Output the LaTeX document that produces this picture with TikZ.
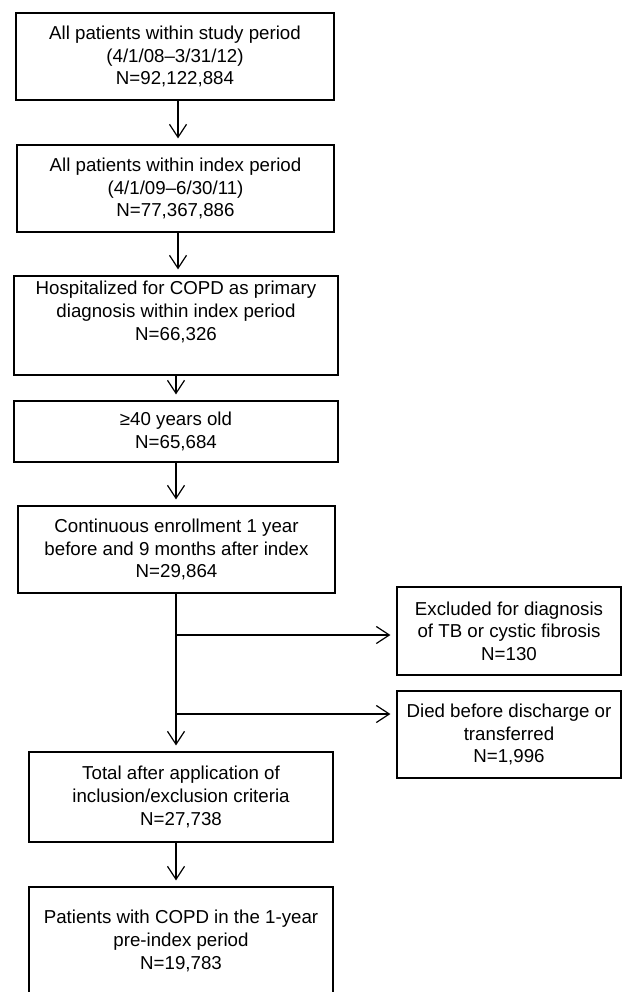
\documentclass[tikz,border=0pt]{standalone}
\usepackage{fontspec}
\setmainfont{Liberation Sans}
\usetikzlibrary{arrows.meta}
\tikzset{
  box/.style={draw=black, line width=1.2pt, rectangle, align=center, inner sep=0pt,
    font=\fontsize{18.7}{22.6}\selectfont},
  conn/.style={draw=black, line width=1.2pt, -{Straight Barb[length=13pt,width=17pt,line width=1.2pt]}, shorten >=6pt}
}
\begin{document}
\begin{tikzpicture}[x=1pt,y=-1pt]
\useasboundingbox (0,0) rectangle (622,992);
\node[box, minimum width=318pt, minimum height=87pt] (b1) at (175,56.5) {All patients within study period\\(4/1/08--3/31/12)\\N=92,122,884};
\node[box, minimum width=317pt, minimum height=87pt] (b2) at (175.5,188.5) {All patients within index period\\(4/1/09--6/30/11)\\N=77,367,886};
\node[box, minimum width=324pt, minimum height=99pt] (b3) at (176,325.5) {Hospitalized for COPD as primary\\diagnosis within index period\\N=66,326\\ \strut};
\node[box, minimum width=324pt, minimum height=61pt] (b4) at (176,431.5) {≥40 years old\\N=65,684};
\node[box, minimum width=317pt, minimum height=87pt] (b5) at (176.5,549.5) {Continuous enrollment 1 year\\before and 9 months after index\\N=29,864};
\node[box, minimum width=224pt, minimum height=88pt] (b6) at (509,631) {Excluded for diagnosis\\of TB or cystic fibrosis\\N=130};
\node[box, minimum width=224pt, minimum height=87pt] (b7) at (509,734.5) {Died before discharge or\\transferred\\N=1,996};
\node[box, minimum width=304pt, minimum height=90pt] (b8) at (181,797) {Total after application of\\inclusion/exclusion criteria\\N=27,738};
\node[box, minimum width=304pt, minimum height=108pt] (b9) at (181,941) {Patients with COPD in the 1-year\\pre-index period\\N=19,783};

\coordinate (j1) at (176,635);
\coordinate (j2) at (176,714);

\draw[conn] ([xshift=3pt]b1.south) -- ([xshift=3pt]b1.south |- b2.north);
\draw[conn] ([xshift=2.5pt]b2.south) -- ([xshift=2.5pt]b2.south |- b3.north);
\draw[conn] (b3.south) -- (b3.south |- b4.north);
\draw[conn] (b4.south) -- (b4.south |- b5.north);
\draw[conn] (j1 |- b5.south) -- (j1 |- b8.north);
\draw[conn] (j1) -- (j1 -| b6.west);
\draw[conn] (j2) -- (j2 -| b7.west);
\draw[conn] (j1 |- b8.south) -- (j1 |- b9.north);
\end{tikzpicture}
\end{document}
